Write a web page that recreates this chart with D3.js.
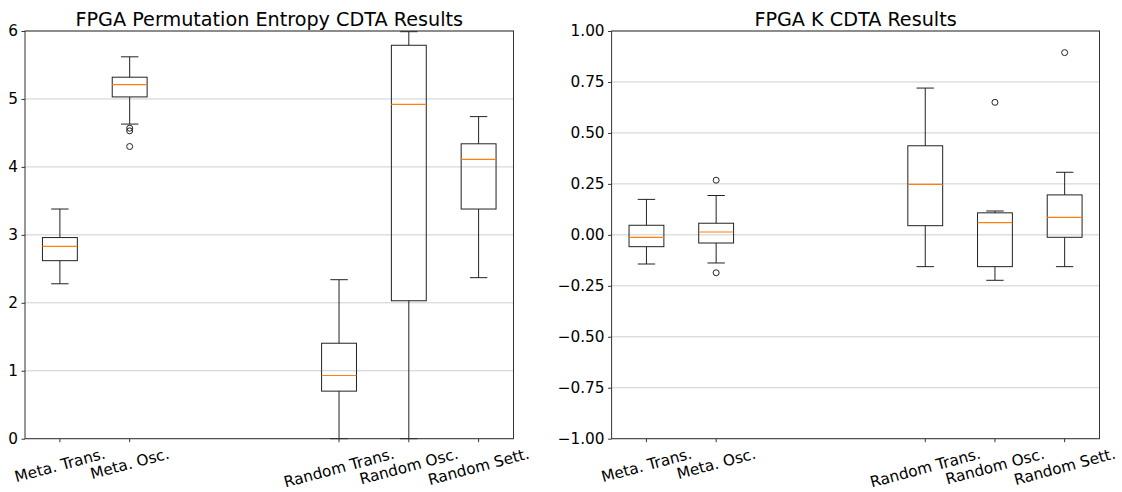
<!DOCTYPE html>
<html>
<head>
<meta charset="utf-8">
<script src="https://cdn.jsdelivr.net/npm/d3@7"></script>
<style>
  body { margin: 0; background: #fff; }
  svg { display: block; font-family: "DejaVu Sans", sans-serif; }
</style>
</head>
<body>
<div id="chart"></div>
<script>
// categories and their x positions (gap between meta and random groups)
const categories = ['Meta. Trans.', 'Meta. Osc.', 'Random Trans.', 'Random Osc.', 'Random Sett.'];
const positions = [1, 2, 5, 6, 7];

// Permutation entropy box stats
const peLow = [2.28, 4.63, 0.0, 0.0, 2.37];
const peQ1 = [2.62, 5.03, 0.70, 2.03, 3.38];
const peMed = [2.83, 5.21, 0.93, 4.92, 4.11];
const peQ3 = [2.96, 5.32, 1.405, 5.79, 4.34];
const peHigh = [3.38, 5.62, 2.34, 5.99, 4.74];
const peFliers = [[], [4.57, 4.53, 4.30], [], [], []];
const peTicks = [0, 1, 2, 3, 4, 5, 6];

// K box stats
const kLow = [-0.143, -0.138, -0.156, -0.223, -0.156];
const kQ1 = [-0.058, -0.040, 0.045, -0.156, -0.012];
const kMed = [-0.012, 0.014, 0.248, 0.06, 0.086];
const kQ3 = [0.047, 0.057, 0.437, 0.108, 0.196];
const kHigh = [0.174, 0.193, 0.72, 0.117, 0.307];
const kFliers = [[], [0.268, -0.186], [], [0.65], [0.894]];
const kTicks = [-1, -0.75, -0.5, -0.25, 0, 0.25, 0.5, 0.75, 1];

const W = 1122, H = 492;
const plotTop = 31, plotBottom = 438.7;
const tickFont = 15.3;

const svg = d3.select('#chart').append('svg')
  .attr('width', W)
  .attr('height', H);

function boxPanel(opts) {
  const x = d3.scaleLinear().domain([0.5, 7.5]).range([opts.left, opts.right]);
  const y = d3.scaleLinear().domain(opts.domain).range([plotBottom, plotTop]);
  const g = svg.append('g');

  // grid
  g.append('g').selectAll('line')
    .data(opts.ticks)
    .join('line')
    .attr('x1', opts.left).attr('x2', opts.right)
    .attr('y1', (d) => y(d)).attr('y2', (d) => y(d))
    .attr('stroke', '#cfcfcf')
    .attr('stroke-width', 1);

  // y axis
  const yAxis = d3.axisLeft(y).tickValues(opts.ticks).tickFormat(opts.fmt)
    .tickSize(3.5).tickPadding(3.5);
  const yg = g.append('g').attr('transform', 'translate(' + opts.left + ',0)').call(yAxis);
  yg.select('.domain').remove();
  yg.selectAll('.tick line').attr('stroke', '#333');
  yg.selectAll('.tick text').attr('font-size', tickFont).attr('fill', '#000')
    .attr('font-family', '"DejaVu Sans", sans-serif');

  // x ticks
  const xt = g.append('g');
  xt.selectAll('line')
    .data(positions)
    .join('line')
    .attr('x1', (d) => x(d)).attr('x2', (d) => x(d))
    .attr('y1', plotBottom).attr('y2', plotBottom + 3.5)
    .attr('stroke', '#333');

  // rotated tick labels, centred under tick
  const labelTop = 444.5;
  const ang = 15 * Math.PI / 180;
  xt.selectAll('text')
    .data(categories)
    .join('text')
    .text((d) => d)
    .attr('font-size', tickFont)
    .attr('fill', '#000')
    .attr('text-anchor', 'middle')
    .attr('dy', '0.35em')
    .attr('transform', function (d, i) {
      const w = this.getComputedTextLength();
      const h = tickFont * 1.16;
      const bh = w * Math.sin(ang) + h * Math.cos(ang);
      return 'translate(' + x(positions[i]) + ',' + (labelTop + bh / 2) + ') rotate(-15)';
    });

  // boxes
  const bw = 0.5, cw = 0.25;
  const boxes = g.append('g').selectAll('g')
    .data(positions)
    .join('g');

  boxes.append('line') // lower whisker
    .attr('x1', (d) => x(d)).attr('x2', (d) => x(d))
    .attr('y1', (d, i) => y(opts.q1[i])).attr('y2', (d, i) => y(opts.low[i]))
    .attr('stroke', '#222');
  boxes.append('line') // upper whisker
    .attr('x1', (d) => x(d)).attr('x2', (d) => x(d))
    .attr('y1', (d, i) => y(opts.q3[i])).attr('y2', (d, i) => y(opts.high[i]))
    .attr('stroke', '#222');
  boxes.append('line') // low cap
    .attr('x1', (d) => x(d - cw / 2)).attr('x2', (d) => x(d + cw / 2))
    .attr('y1', (d, i) => y(opts.low[i])).attr('y2', (d, i) => y(opts.low[i]))
    .attr('stroke', '#222');
  boxes.append('line') // high cap
    .attr('x1', (d) => x(d - cw / 2)).attr('x2', (d) => x(d + cw / 2))
    .attr('y1', (d, i) => y(opts.high[i])).attr('y2', (d, i) => y(opts.high[i]))
    .attr('stroke', '#222');
  boxes.append('rect')
    .attr('x', (d) => x(d - bw / 2))
    .attr('width', (d) => x(d + bw / 2) - x(d - bw / 2))
    .attr('y', (d, i) => y(opts.q3[i]))
    .attr('height', (d, i) => y(opts.q1[i]) - y(opts.q3[i]))
    .attr('fill', 'none')
    .attr('stroke', '#222');
  boxes.append('line') // median
    .attr('x1', (d) => x(d - bw / 2)).attr('x2', (d) => x(d + bw / 2))
    .attr('y1', (d, i) => y(opts.med[i])).attr('y2', (d, i) => y(opts.med[i]))
    .attr('stroke', '#ff7f0e')
    .attr('stroke-width', 1.2);
  boxes.selectAll('circle')
    .data((d, i) => opts.fliers[i].map((v) => [d, v]))
    .join('circle')
    .attr('cx', (d) => x(d[0]))
    .attr('cy', (d) => y(d[1]))
    .attr('r', 3)
    .attr('fill', 'none')
    .attr('stroke', '#222');

  // frame
  g.append('rect')
    .attr('x', opts.left).attr('y', plotTop)
    .attr('width', opts.right - opts.left)
    .attr('height', plotBottom - plotTop)
    .attr('fill', 'none')
    .attr('stroke', '#333');

  // title
  g.append('text')
    .attr('x', (opts.left + opts.right) / 2)
    .attr('y', 26)
    .attr('text-anchor', 'middle')
    .attr('font-size', 19.2)
    .attr('fill', '#000')
    .text(opts.title);
}

boxPanel({
  left: 25, right: 513.5,
  domain: [0, 6], ticks: peTicks, fmt: d3.format('d'),
  low: peLow, q1: peQ1, med: peMed, q3: peQ3, high: peHigh, fliers: peFliers,
  title: 'FPGA Permutation Entropy CDTA Results'
});

boxPanel({
  left: 611.6, right: 1099.5,
  domain: [-1, 1], ticks: kTicks, fmt: d3.format('.2f'),
  low: kLow, q1: kQ1, med: kMed, q3: kQ3, high: kHigh, fliers: kFliers,
  title: 'FPGA K CDTA Results'
});
</script>
</body>
</html>
